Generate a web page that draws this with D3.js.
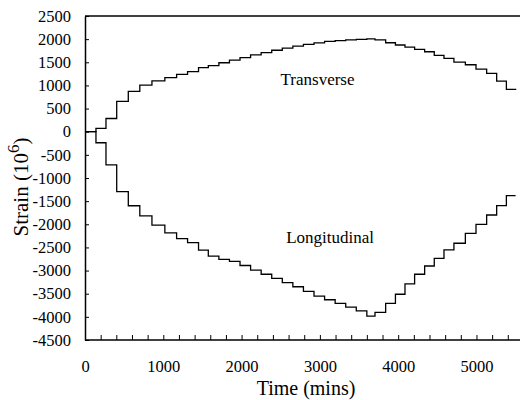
<!DOCTYPE html>
<html>
<head>
<meta charset="utf-8">
<script src="https://cdn.jsdelivr.net/npm/d3@7"></script>
<style>
  html, body { margin: 0; padding: 0; background: #fff; }
  svg { display: block; }
  svg text { font-family: "Liberation Serif", "Times New Roman", Times, serif !important; fill: #000; }
</style>
</head>
<body>
<svg id="chart" width="520" height="400"></svg>
<script>
// ---- data ----
const stepTimes = [0, 140, 268, 405, 553, 700, 855, 1020, 1170, 1310, 1450, 1575, 1710, 1845, 1980, 2115, 2250, 2385, 2520, 2655, 2790, 2925, 3060, 3195, 3330, 3465, 3600, 3704, 3840, 3965, 4087, 4210, 4338, 4461, 4585, 4712, 4858, 4994, 5130, 5258, 5382, 5500];
const transverse = [0, 73, 285, 655, 870, 1005, 1100, 1170, 1240, 1300, 1385, 1430, 1490, 1545, 1600, 1660, 1710, 1760, 1805, 1850, 1885, 1920, 1950, 1970, 1985, 1995, 2005, 1985, 1922, 1873, 1829, 1780, 1728, 1650, 1585, 1505, 1447, 1354, 1261, 1095, 915, 900];
const longitudinal = [0, -238, -715, -1295, -1600, -1820, -2020, -2185, -2310, -2395, -2560, -2690, -2760, -2800, -2890, -2990, -3080, -3170, -3260, -3350, -3450, -3550, -3630, -3710, -3790, -3870, -3985, -3901, -3707, -3512, -3289, -3080, -2901, -2735, -2555, -2410, -2195, -2000, -1799, -1598, -1382, -1382];
const xTicks = [0, 1000, 2000, 3000, 4000, 5000];
const yTicks = [-4500, -4000, -3500, -3000, -2500, -2000, -1500, -1000, -500, 0, 500, 1000, 1500, 2000, 2500];
const seriesLabels = [
  { name: "Transverse", t: 2970, v: 1000 },
  { name: "Longitudinal", t: 3130, v: -2410 }
];

// ---- layout ----
const FONT = "'Liberation Serif', 'Times New Roman', Times, serif";
const svg = d3.select("#chart");
const x = d3.scaleLinear().domain([0, 5556]).range([85, 520]);
const y = d3.scaleLinear().domain([-4500, 2500]).range([340, 16]);

// axis frame top line
svg.append("line")
  .attr("x1", x(0)).attr("x2", 520)
  .attr("y1", y(2500)).attr("y2", y(2500))
  .attr("stroke", "#000").attr("stroke-width", 1.5);

// x axis
const minorX = d3.range(0, 5556, 200);
const xAxis = d3.axisBottom(x)
  .tickValues(minorX)
  .tickSizeInner(-5).tickSizeOuter(0).tickPadding(20)
  .tickFormat(d => xTicks.includes(d) ? String(d) : "");
const gx = svg.append("g").attr("transform", `translate(0,${y(-4500)})`).call(xAxis);
gx.attr("font-family", FONT).attr("font-size", 16.5);
gx.select(".domain").attr("stroke", "#000").attr("stroke-width", 1.5)
  .attr("d", `M${x(0)},0H520`);
gx.selectAll(".tick line").attr("stroke", "#000").attr("stroke-width", 1);
gx.selectAll("text").style("font-family", FONT).attr("font-size", 16.5);

// y axis
const yAxis = d3.axisLeft(y)
  .tickValues(yTicks)
  .tickSizeInner(-4).tickSizeOuter(0).tickPadding(14)
  .tickFormat(d => String(d));
const gy = svg.append("g").attr("transform", `translate(${x(0)},0)`).call(yAxis);
gy.attr("font-family", FONT).attr("font-size", 16.5);
gy.select(".domain").attr("stroke", "#000").attr("stroke-width", 1.5);
gy.selectAll(".tick line").attr("stroke", "#000").attr("stroke-width", 1);
gy.selectAll("text").style("font-family", FONT).attr("font-size", 16.5);

// lines
const line = d3.line()
  .x(d => x(d[0])).y(d => y(d[1]))
  .curve(d3.curveStepAfter);
[transverse, longitudinal].forEach(vals => {
  svg.append("path")
    .datum(stepTimes.map((t, i) => [t, vals[i]]))
    .attr("fill", "none")
    .attr("stroke", "#000")
    .attr("stroke-width", 1.3)
    .attr("d", line);
});

// series labels
svg.selectAll("text.series")
  .data(seriesLabels)
  .enter().append("text")
  .attr("class", "series")
  .attr("x", d => x(d.t)).attr("y", d => y(d.v))
  .attr("text-anchor", "middle")
  .attr("font-size", 17)
  .text(d => d.name);

// axis titles
svg.append("text")
  .attr("x", 306).attr("y", 395)
  .attr("text-anchor", "middle")
  .attr("font-size", 20)
  .text("Time (mins)");

const yt = svg.append("text")
  .attr("transform", "translate(28,187) rotate(-90)")
  .attr("text-anchor", "middle")
  .attr("font-size", 21);
yt.append("tspan").text("Strain (10");
yt.append("tspan").attr("dy", -9).attr("font-size", 17).text("6");
yt.append("tspan").attr("dy", 9).text(")");
</script>
</body>
</html>
